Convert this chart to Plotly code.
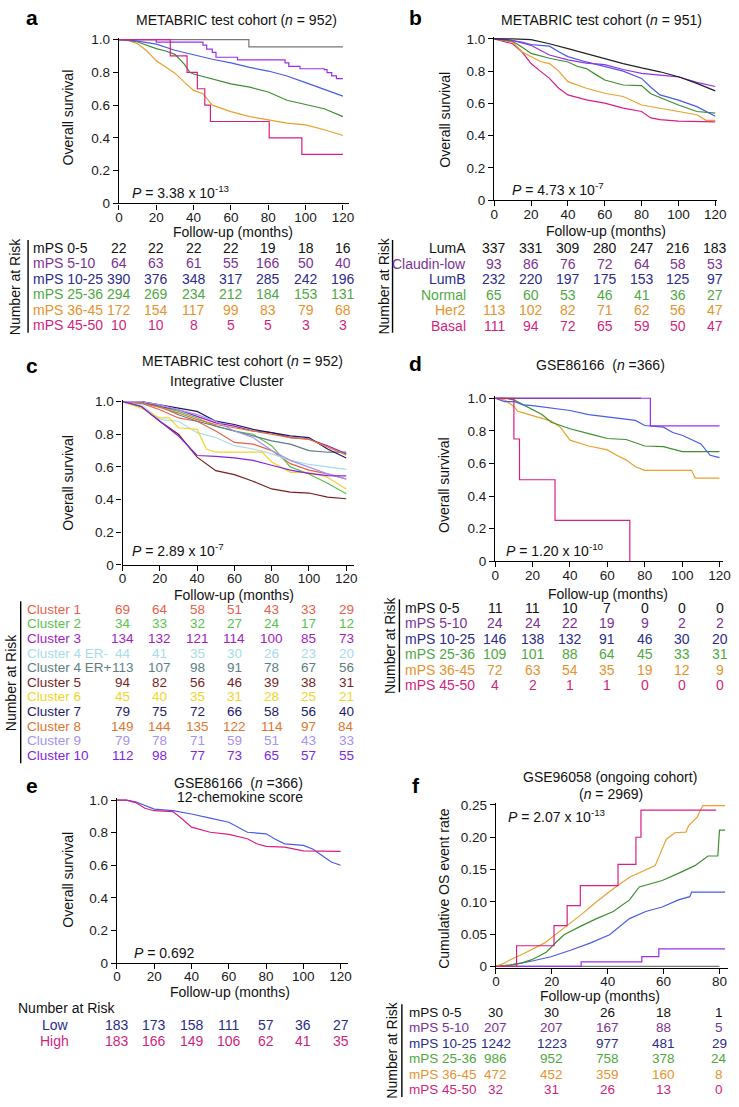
import plotly.graph_objects as go

#------------------------------------------------------------------------------#
#     Panel a : METABRIC test cohort (n = 952), mPS groups                     #
#------------------------------------------------------------------------------#
a_t_0_5 = [0, 69.6, 120]
a_s_0_5 = [1.0, 0.955, 0.955]
a_t_5_10 = [0, 20, 45, 47, 50, 52, 63.5, 89, 91, 97, 110, 111.5, 114, 116.5, 120]
a_s_5_10 = [1.0, 0.985, 0.966, 0.942, 0.922, 0.892, 0.876, 0.858, 0.836, 0.822,
            0.816, 0.798, 0.778, 0.762, 0.762]
a_t_10_25 = [0, 5, 10, 15, 20, 30, 40, 50, 60, 70, 80, 90, 100, 110, 120]
a_s_10_25 = [1.0, 0.998, 0.99, 0.98, 0.972, 0.935, 0.906, 0.88, 0.858, 0.83,
             0.808, 0.778, 0.737, 0.697, 0.655]
a_t_25_36 = [0, 5, 10, 15, 20, 25, 30, 35, 38, 40, 45, 50, 60, 70, 80, 90, 100, 110, 120]
a_s_25_36 = [1.0, 0.995, 0.985, 0.965, 0.945, 0.93, 0.91, 0.85, 0.8, 0.79, 0.775,
             0.76, 0.73, 0.71, 0.68, 0.63, 0.605, 0.578, 0.53]
a_t_36_45 = [0, 5, 10, 15, 20, 25, 30, 35, 40, 45, 50, 60, 70, 80, 90, 100, 110, 120]
a_s_36_45 = [1.0, 0.995, 0.975, 0.93, 0.87, 0.835, 0.795, 0.74, 0.69, 0.67, 0.6,
             0.56, 0.53, 0.51, 0.49, 0.48, 0.45, 0.415]
a_t_45_50 = [0, 27.5, 36.5, 42, 46, 49, 80.5, 98, 120]
a_s_45_50 = [1.0, 0.9, 0.8, 0.7, 0.6, 0.5, 0.4, 0.3, 0.3]

a_labels = ['mPS 0-5', 'mPS 5-10', 'mPS 10-25', 'mPS 25-36', 'mPS 36-45', 'mPS 45-50']
a_risk = [[22, 22, 22, 22, 19, 18, 16],
          [64, 63, 61, 55, 166, 50, 40],
          [390, 376, 348, 317, 285, 242, 196],
          [294, 269, 234, 212, 184, 153, 131],
          [172, 154, 117, 99, 83, 79, 68],
          [10, 10, 8, 5, 5, 3, 3]]

#------------------------------------------------------------------------------#
#     Panel b : METABRIC test cohort (n = 951), PAM50 subtypes                 #
#------------------------------------------------------------------------------#
b_t_luma = [0, 10, 20, 30, 40, 50, 60, 70, 80, 90, 100, 110, 120]
b_s_luma = [1.0, 1.0, 0.995, 0.97, 0.94, 0.908, 0.878, 0.847, 0.82, 0.796, 0.765, 0.724, 0.678]
b_t_claudin = [0, 5, 10, 15, 20, 25, 30, 40, 50, 60, 70, 80, 90, 100, 110, 120]
b_s_claudin = [1.0, 0.998, 0.99, 0.975, 0.96, 0.93, 0.9, 0.87, 0.85, 0.84, 0.81,
               0.786, 0.776, 0.765, 0.73, 0.705]
b_t_lumb = [0, 10, 15, 20, 25, 30, 35, 40, 50, 60, 70, 80, 85, 90, 100, 110, 120]
b_s_lumb = [1.0, 0.99, 0.98, 0.965, 0.96, 0.955, 0.92, 0.89, 0.857, 0.827, 0.8,
            0.755, 0.7, 0.653, 0.62, 0.58, 0.52]
b_t_normal = [0, 10, 15, 20, 30, 40, 45, 50, 55, 60, 70, 80, 85, 90, 100, 110, 120]
b_s_normal = [1.0, 0.985, 0.95, 0.91, 0.88, 0.857, 0.83, 0.816, 0.78, 0.745, 0.714,
              0.71, 0.66, 0.637, 0.59, 0.55, 0.54]
b_t_her2 = [0, 10, 15, 20, 25, 30, 35, 40, 50, 60, 70, 80, 90, 100, 110, 115, 120]
b_s_her2 = [1.0, 0.98, 0.92, 0.888, 0.86, 0.847, 0.8, 0.735, 0.694, 0.663, 0.643,
            0.59, 0.57, 0.55, 0.53, 0.495, 0.495]
b_t_basal = [0, 10, 15, 20, 25, 30, 35, 40, 50, 60, 70, 80, 85, 90, 100, 120]
b_s_basal = [1.0, 0.97, 0.92, 0.847, 0.8, 0.755, 0.694, 0.653, 0.622, 0.602, 0.571,
             0.55, 0.51, 0.5, 0.49, 0.485]

b_labels = ['LumA', 'Claudin-low', 'LumB', 'Normal', 'Her2', 'Basal']
b_risk = [[337, 331, 309, 280, 247, 216, 183],
          [93, 86, 76, 72, 64, 58, 53],
          [232, 220, 197, 175, 153, 125, 97],
          [65, 60, 53, 46, 41, 36, 27],
          [113, 102, 82, 71, 62, 56, 47],
          [111, 94, 72, 65, 59, 50, 47]]

#------------------------------------------------------------------------------#
#     Panel c : METABRIC test cohort, Integrative Cluster                      #
#------------------------------------------------------------------------------#
c_t = [0, 10, 20, 30, 40, 50, 60, 70, 80, 90, 100, 110, 120]
c_s_cl1 = [1.0, 0.99, 0.95, 0.9, 0.88, 0.82, 0.75, 0.74, 0.7, 0.62, 0.58, 0.557, 0.527]
c_s_cl2 = [1.0, 1.0, 0.97, 0.94, 0.9, 0.85, 0.82, 0.8, 0.73, 0.6, 0.557, 0.5, 0.435]
c_s_cl3 = [1.0, 1.0, 0.97, 0.95, 0.91, 0.87, 0.85, 0.82, 0.81, 0.78, 0.77, 0.73, 0.68]
c_s_cl4n = [1.0, 0.98, 0.89, 0.88, 0.81, 0.78, 0.73, 0.71, 0.68, 0.64, 0.615, 0.6, 0.585]
c_s_cl4p = [1.0, 0.99, 0.97, 0.92, 0.88, 0.85, 0.82, 0.79, 0.76, 0.74, 0.70, 0.69, 0.69]
c_s_cl5 = [1.0, 0.97, 0.88, 0.8, 0.66, 0.577, 0.553, 0.512, 0.465, 0.445, 0.44, 0.415, 0.405]
c_t_cl6 = [0, 5, 10, 15, 20, 25, 30, 40, 45, 50, 75, 80, 85, 90, 100, 110, 115, 120]
c_s_cl6 = [1.0, 0.98, 0.96, 0.93, 0.9, 0.9, 0.84, 0.83, 0.71, 0.69, 0.69, 0.63, 0.6,
           0.567, 0.567, 0.537, 0.5, 0.465]
c_s_cl7 = [1.0, 1.0, 0.98, 0.96, 0.94, 0.88, 0.86, 0.83, 0.81, 0.79, 0.78, 0.71, 0.655]
c_s_cl8 = [1.0, 0.99, 0.965, 0.93, 0.89, 0.86, 0.84, 0.82, 0.8, 0.78, 0.77, 0.72, 0.673]
c_s_cl9 = [1.0, 1.0, 0.98, 0.95, 0.92, 0.88, 0.82, 0.78, 0.7, 0.64, 0.6, 0.557, 0.525]
c_s_cl10 = [1.0, 0.97, 0.88, 0.79, 0.67, 0.665, 0.655, 0.64, 0.61, 0.58, 0.56, 0.547, 0.545]

c_labels = ['Cluster 1', 'Cluster 2', 'Cluster 3', 'Cluster 4 ER-', 'Cluster 4 ER+',
            'Cluster 5', 'Cluster 6', 'Cluster 7', 'Cluster 8', 'Cluster 9', 'Cluster 10']
c_risk = [[69, 64, 58, 51, 43, 33, 29],
          [34, 33, 32, 27, 24, 17, 12],
          [134, 132, 121, 114, 100, 85, 73],
          [44, 41, 35, 30, 26, 23, 20],
          [113, 107, 98, 91, 78, 67, 56],
          [94, 82, 56, 46, 39, 38, 31],
          [45, 40, 35, 31, 28, 25, 21],
          [79, 75, 72, 66, 58, 56, 40],
          [149, 144, 135, 122, 114, 97, 84],
          [79, 78, 71, 59, 51, 43, 33],
          [112, 98, 77, 73, 65, 57, 55]]
c_colors = ['#E8604A', '#5BC24F', '#A21CC4', '#A6DCEB', '#5E7D82', '#7B1E1E',
            '#F2D52A', '#1C1A6B', '#E0762E', '#A393F2', '#8424E0']

#------------------------------------------------------------------------------#
#     Panel d : GSE86166 (n = 366), mPS groups                                 #
#------------------------------------------------------------------------------#
d_t_0_5 = [0, 78]
d_s_0_5 = [1.0, 1.0]
d_t_5_10 = [0, 83, 120]
d_s_5_10 = [1.0, 0.83, 0.83]
d_t_10_25 = [0, 3, 5, 10, 15, 20, 30, 40, 50, 60, 70, 75, 80, 90, 95, 100, 110, 115, 120]
d_s_10_25 = [1.0, 0.99, 0.98, 0.98, 0.96, 0.955, 0.94, 0.925, 0.9, 0.887, 0.874,
             0.864, 0.833, 0.823, 0.79, 0.773, 0.72, 0.65, 0.636]
d_t_25_36 = [0, 5, 10, 15, 20, 25, 30, 40, 50, 60, 70, 80, 90, 100, 110, 120]
d_s_25_36 = [1.0, 1.0, 0.99, 0.96, 0.934, 0.9, 0.853, 0.813, 0.783, 0.753, 0.747,
             0.707, 0.703, 0.673, 0.673, 0.673]
d_t_36_45 = [0, 5, 10, 12, 15, 20, 30, 35, 40, 50, 60, 65, 70, 75, 80, 105, 107, 120]
d_s_36_45 = [1.0, 0.99, 0.95, 0.92, 0.91, 0.894, 0.86, 0.82, 0.743, 0.707, 0.683,
             0.65, 0.622, 0.58, 0.558, 0.558, 0.51, 0.51]
d_t_45_50 = [0, 10, 13, 32, 72]
d_s_45_50 = [1.0, 0.75, 0.5, 0.25, 0.0]

d_risk = [[11, 11, 10, 7, 0, 0, 0],
          [24, 24, 22, 19, 9, 2, 2],
          [146, 138, 132, 91, 46, 30, 20],
          [109, 101, 88, 64, 45, 33, 31],
          [72, 63, 54, 35, 19, 12, 9],
          [4, 2, 1, 1, 0, 0, 0]]

#------------------------------------------------------------------------------#
#     Panel e : GSE86166, 12-chemokine score                                   #
#------------------------------------------------------------------------------#
e_t_low = [0, 5, 10, 20, 30, 40, 50, 60, 70, 80, 85, 90, 100, 105, 110, 115, 120]
e_s_low = [1.0, 1.0, 0.99, 0.945, 0.935, 0.915, 0.89, 0.864, 0.803, 0.793, 0.76,
           0.732, 0.722, 0.7, 0.66, 0.62, 0.6]
e_t_high = [0, 5, 10, 15, 20, 30, 35, 40, 50, 60, 70, 75, 80, 90, 100, 110, 120]
e_s_high = [1.0, 1.0, 0.985, 0.95, 0.935, 0.93, 0.884, 0.834, 0.803, 0.79, 0.763,
            0.732, 0.716, 0.712, 0.688, 0.685, 0.685]

e_labels = ['Low', 'High']
e_risk = [[183, 173, 158, 111, 57, 36, 27],
          [183, 166, 149, 106, 62, 41, 35]]

#------------------------------------------------------------------------------#
#     Panel f : GSE96058 ongoing cohort (n = 2969), cumulative event rate      #
#------------------------------------------------------------------------------#
f_t_0_5 = [0, 80]
f_s_0_5 = [0.0, 0.0]
f_t_5_10 = [0, 30.5, 52.2, 58.3, 82]
f_s_5_10 = [0.0, 0.007, 0.015, 0.027, 0.027]
f_t_10_25 = [0, 5, 12.6, 19.7, 26.7, 33.7, 40.7, 47.8, 53.6, 59.5, 65.3, 69.4, 70, 82]
f_s_10_25 = [0.0, 0.002, 0.008, 0.015, 0.025, 0.036, 0.049, 0.074, 0.085, 0.092,
             0.103, 0.108, 0.115, 0.115]
f_t_25_36 = [0, 5, 9, 12.6, 15, 18, 21, 24.4, 30.2, 36, 42, 47.8, 51.3, 53.6, 59.5,
             65.3, 71.2, 75.9, 79.4, 80, 82]
f_s_25_36 = [0.0, 0.002, 0.005, 0.01, 0.015, 0.022, 0.035, 0.049, 0.062, 0.074,
             0.085, 0.103, 0.123, 0.126, 0.133, 0.144, 0.156, 0.171, 0.171, 0.211, 0.211]
f_t_36_45 = [0, 3, 5, 10, 17.3, 24.4, 30.2, 36, 41.9, 47.8, 53.6, 57, 59.5, 61, 64,
             68, 69, 72, 74, 82]
f_s_36_45 = [0.0, 0.005, 0.01, 0.02, 0.036, 0.059, 0.079, 0.1, 0.12, 0.138, 0.149,
             0.156, 0.182, 0.197, 0.207, 0.208, 0.218, 0.231, 0.249, 0.249]
f_t_45_50 = [0, 7.4, 20.8, 25.5, 30.2, 43.7, 50.1, 51.9, 78.8]
f_s_45_50 = [0.0, 0.032, 0.063, 0.094, 0.125, 0.158, 0.2, 0.242, 0.242]

f_risk = [[30, 30, 26, 18, 1],
          [207, 207, 167, 88, 5],
          [1242, 1223, 977, 481, 29],
          [986, 952, 758, 378, 24],
          [472, 452, 359, 160, 8],
          [32, 31, 26, 13, 0]]

months_120 = [0, 20, 40, 60, 80, 100, 120]
months_80 = [0, 20, 40, 60, 80]

#------------------------------------------------------------------------------#
#     colours                                                                  #
#------------------------------------------------------------------------------#
LINE = {'k': '#777777', 'k2': '#222222', 'v': '#9B30E8', 'b': '#4A5BE6',
        'g': '#3E8E2E', 'o': '#EAA02E', 'm': '#D91E84'}
TXT = ['#111111', '#7B3294', '#2B2B8C', '#4FA83F', '#E8922C', '#D11F7C']

W, H = 739, 1107
FONT = 'Liberation Sans, Arial, Helvetica, sans-serif'


def fx(p):
    return p / W


def fy(p):
    return 1 - p / H


# pixel geometry of every panel: month 0 position, px per month, axis end,
# pixel of y = 0, px per unit, y range
GEOM = {
    1: dict(x0=117, ppm=1.9, xmax=123.5, y0=200, ppu=166, ymin=0, ymax=1.012),
    2: dict(x0=499, ppm=1.875, xmax=121, y0=196.7, ppu=163.4, ymin=0, ymax=1.012),
    3: dict(x0=120.7, ppm=1.897, xmax=124, y0=566, ppu=165.3, ymin=0, ymax=1.012),
    4: dict(x0=500, ppm=1.903, xmax=122, y0=562.3, ppu=165, ymin=0, ymax=1.012),
    5: dict(x0=115, ppm=1.897, xmax=124, y0=969.3, ppu=165, ymin=0, ymax=1.012),
    6: dict(x0=500.7, ppm=2.845, xmax=83, y0=972.7, ppu=654, ymin=-0.002, ymax=0.2525),
}

fig = go.Figure()


def sfx(n):
    return '' if n == 1 else str(n)


axis_style = dict(showline=True, linecolor='black', linewidth=1.4, ticks='outside',
                  ticklen=5, tickwidth=1.2, tickcolor='black', showgrid=False,
                  zeroline=False, tickfont=dict(family=FONT, size=13.5, color='#1a1a1a'))

for n, g in GEOM.items():
    s = sfx(n)
    xt = months_80 if n == 6 else months_120
    if n == 6:
        yv = [0, 0.05, 0.10, 0.15, 0.20, 0.25]
        yt = ['0', '0.05', '0.10', '0.15', '0.20', '0.25']
    else:
        yv = [0, 0.2, 0.4, 0.6, 0.8, 1.0]
        yt = ['0', '0.2', '0.4', '0.6', '0.8', '1.0']
    fig.update_layout(**{
        'xaxis' + s: dict(axis_style, domain=[fx(g['x0']), fx(g['x0'] + g['xmax'] * g['ppm'])],
                          range=[0, g['xmax']], tickvals=xt, anchor='y' + s,
                          ticklabelstandoff=-4),
        'yaxis' + s: dict(axis_style, domain=[fy(g['y0'] - g['ymin'] * g['ppu']),
                                              fy(g['y0'] - g['ymax'] * g['ppu'])],
                          range=[g['ymin'], g['ymax']], tickvals=yv, ticktext=yt,
                          anchor='x' + s),
    })


def curve(n, t, v, color, shape='linear'):
    fig.add_trace(go.Scatter(x=t, y=v, mode='lines', xaxis='x' + sfx(n), yaxis='y' + sfx(n),
                             line=dict(color=color, width=1.2, shape=shape),
                             showlegend=False, hoverinfo='skip'))


# a
curve(1, a_t_0_5, a_s_0_5, LINE['k'], 'hv')
curve(1, a_t_36_45, a_s_36_45, LINE['o'])
curve(1, a_t_25_36, a_s_25_36, LINE['g'])
curve(1, a_t_10_25, a_s_10_25, LINE['b'])
curve(1, a_t_5_10, a_s_5_10, LINE['v'], 'hv')
curve(1, a_t_45_50, a_s_45_50, LINE['m'], 'hv')
# b
curve(2, b_t_basal, b_s_basal, LINE['m'])
curve(2, b_t_her2, b_s_her2, LINE['o'])
curve(2, b_t_normal, b_s_normal, LINE['g'])
curve(2, b_t_lumb, b_s_lumb, LINE['b'])
curve(2, b_t_claudin, b_s_claudin, LINE['v'])
curve(2, b_t_luma, b_s_luma, LINE['k2'])
# c
for vals, col in zip([c_s_cl1, c_s_cl2, c_s_cl3, c_s_cl4n, c_s_cl4p, c_s_cl5, None,
                      c_s_cl7, c_s_cl8, c_s_cl9, c_s_cl10], c_colors):
    if vals is None:
        curve(3, c_t_cl6, c_s_cl6, col)
    else:
        curve(3, c_t, vals, col)
# d
curve(4, d_t_36_45, d_s_36_45, LINE['o'])
curve(4, d_t_25_36, d_s_25_36, LINE['g'])
curve(4, d_t_10_25, d_s_10_25, LINE['b'])
curve(4, d_t_0_5, d_s_0_5, LINE['k2'], 'hv')
curve(4, d_t_5_10, d_s_5_10, LINE['v'], 'hv')
curve(4, d_t_45_50, d_s_45_50, LINE['m'], 'hv')
# e
curve(5, e_t_low, e_s_low, LINE['b'])
curve(5, e_t_high, e_s_high, LINE['m'])
# f
curve(6, f_t_0_5, f_s_0_5, LINE['k'], 'hv')
curve(6, f_t_5_10, f_s_5_10, LINE['v'], 'hv')
curve(6, f_t_10_25, f_s_10_25, LINE['b'])
curve(6, f_t_25_36, f_s_25_36, LINE['g'])
curve(6, f_t_36_45, f_s_36_45, LINE['o'])
curve(6, f_t_45_50, f_s_45_50, LINE['m'], 'hv')

#------------------------------------------------------------------------------#
#     texts: letters, titles, axis titles, P values, risk tables              #
#------------------------------------------------------------------------------#
ann = []
shapes = []


def text(x, y, s, size=14, color='#111111', xanchor='center', angle=0):
    ann.append(dict(x=fx(x), y=fy(y), xref='paper', yref='paper', text=s,
                    showarrow=False, xanchor=xanchor, yanchor='middle', textangle=angle,
                    font=dict(family=FONT, size=size, color=color)))


def table(n, labels, rows, colors, lx, lanchor, ry0, rdy, months, size=14):
    for i, (lab, vals, col) in enumerate(zip(labels, rows, colors)):
        y = ry0 + i * rdy
        text(lx, y, lab, size=size, color=col, xanchor=lanchor)
        for m, v in zip(months, vals):
            ann.append(dict(x=m, y=fy(y), xref='x' + sfx(n), yref='paper', text=str(v),
                            showarrow=False, xanchor='center', yanchor='middle',
                            font=dict(family=FONT, size=size, color=col)))


def risk_bar(x_txt, x_line, y_top, y_bot):
    text(x_txt, (y_top + y_bot) / 2, 'Number at Risk', angle=-90)
    shapes.append(dict(type='line', xref='paper', yref='paper', x0=fx(x_line), x1=fx(x_line),
                       y0=fy(y_top), y1=fy(y_bot), line=dict(color='black', width=1.4)))


for lx, ly, let in [(20, 12, 'a'), (410, 12, 'b'), (20, 364, 'c'), (410, 362, 'd'),
                    (20, 789, 'e'), (413, 789, 'f')]:
    text(lx, ly, '<b>' + let + '</b>', size=21, color='black', xanchor='left')

text(237, 14, 'METABRIC test cohort (<i>n</i> = 952)')
text(608, 14, 'METABRIC test cohort (<i>n</i> = 951)')
text(243, 360, 'METABRIC test cohort (<i>n</i> = 952)')
text(227, 380, 'Integrative Cluster')
text(607, 364, 'GSE86166\u00a0\u00a0(<i>n</i> =366)')
text(239, 787, 'GSE86166\u00a0\u00a0(<i>n</i> =366)')
text(240, 801, '12-chemokine score')
text(617, 781, 'GSE96058 (ongoing cohort)')
text(618, 798, '(<i>n</i> = 2969)')

for x, y in [(65, 113), (448, 115), (65, 483), (448, 485), (65, 885)]:
    text(x, y, 'Overall survival', angle=-90)
text(448, 894, 'Cumulative OS event rate', angle=-90)

for x, y in [(233, 229), (613, 228), (234, 597), (615, 596), (230, 999), (607, 1003)]:
    text(x, y, 'Follow-up (months)')

text(128, 188, '<i>P</i> = 3.38 x 10<sup>-13</sup>', xanchor='left')
text(515, 185, '<i>P</i> = 4.73 x 10<sup>-7</sup>', xanchor='left')
text(128, 551, '<i>P</i> = 2.89 x 10<sup>-7</sup>', xanchor='left')
text(509, 551, '<i>P</i> = 1.20 x 10<sup>-10</sup>', xanchor='left')
text(130, 959, '<i>P</i> = 0.692', xanchor='left')
text(511, 820, '<i>P</i> = 2.07 x 10<sup>-13</sup>', xanchor='left')

table(1, a_labels, a_risk, TXT, 27, 'left', 245, 15.6, months_120)
table(2, b_labels, b_risk, TXT, 472, 'right', 245, 15.8, months_120)
table(3, c_labels, c_risk, c_colors, 21, 'left', 611, 14.8, months_120, size=13.5)
table(4, a_labels, d_risk, TXT, 406, 'left', 609.3, 15.75, months_120)
table(5, e_labels, e_risk, [TXT[2], TXT[5]], 68, 'right', 1032, 16, months_120)
table(6, a_labels, f_risk, TXT, 410, 'left', 1019, 15.7, months_80, size=13.5)

risk_bar(12, 24.5, 237, 331)
risk_bar(387, 395.5, 237, 331)
risk_bar(7, 17, 603, 767)
risk_bar(393, 402.5, 601, 695)
risk_bar(395, 405, 1011, 1105)
text(12, 1015, 'Number at Risk', xanchor='left')

fig.update_layout(width=W, height=H, margin=dict(l=0, r=0, t=0, b=0),
                  paper_bgcolor='white', plot_bgcolor='white',
                  annotations=ann, shapes=shapes,
                  font=dict(family=FONT, size=14, color='#111111'))

# the page body has a default 8px margin: remove it so the figure sits at 0,0
fig.write_html('out.html', config={'displayModeBar': False},
               post_script="document.body.style.margin='0';document.body.style.overflow='hidden';")
